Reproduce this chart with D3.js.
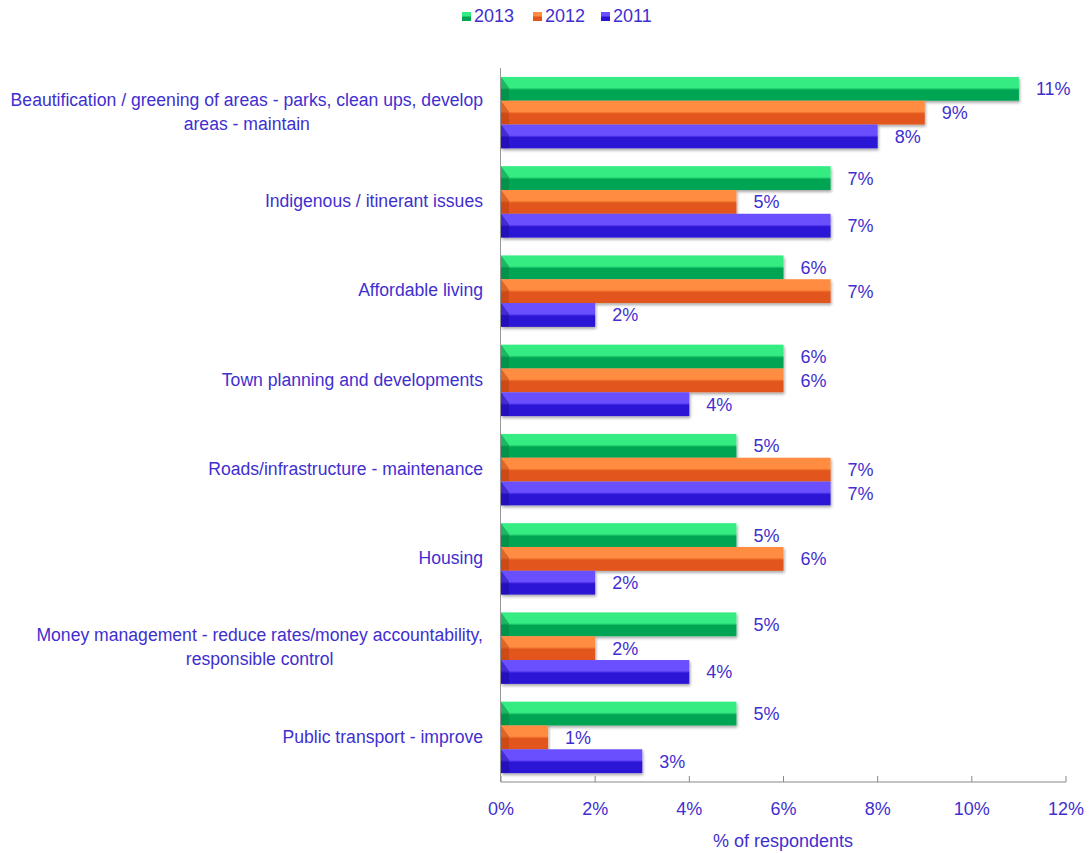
<!DOCTYPE html>
<html><head><meta charset="utf-8">
<script src="https://cdn.jsdelivr.net/npm/d3@7"></script>
<style>body{margin:0;background:#fff}text{font-family:"Liberation Sans",Arial,sans-serif}</style>
</head><body><svg id="c" width="1092" height="853"></svg>
<script>
const categories = [
  ["Beautification / greening of areas - parks, clean ups, develop","areas - maintain"],
  ["Indigenous / itinerant issues"],
  ["Affordable living"],
  ["Town planning and developments"],
  ["Roads/infrastructure - maintenance"],
  ["Housing"],
  ["Money management - reduce rates/money accountability,","responsible control"],
  ["Public transport - improve"]
];
const seriesNames = ["2013","2012","2011"];
const v2013 = [11,7,6,6,5,5,5,5];
const v2012 = [9,5,7,6,7,6,2,1];
const v2011 = [8,7,2,4,7,2,4,3];
const ticks = [0,2,4,6,8,10,12];

(function(){
const series = [v2013, v2012, v2011];
const cols = [
  {top:"#34ec82", bot:"#03a552", dark:"#05803f"},
  {top:"#ff8c40", bot:"#e2541a", dark:"#b84010"},
  {top:"#6b50ff", bot:"#2c12d4", dark:"#1e0aa0"}
];
const textCol = "#3f2fd0";
const fs = 18;

const svg = d3.select("#c");
const defs = svg.append("defs");
cols.forEach((c,i)=>{
  const g = defs.append("linearGradient").attr("id","g"+i).attr("x1",0).attr("y1",0).attr("x2",0).attr("y2",1);
  g.append("stop").attr("offset","0%").attr("stop-color",c.top);
  g.append("stop").attr("offset","45%").attr("stop-color",c.top);
  g.append("stop").attr("offset","55%").attr("stop-color",c.bot);
  g.append("stop").attr("offset","100%").attr("stop-color",c.bot);
});
const sh = defs.append("filter").attr("id","sh").attr("x","-5%").attr("y","-20%").attr("width","110%").attr("height","160%");
sh.append("feGaussianBlur").attr("in","SourceAlpha").attr("stdDeviation",1.5);
sh.append("feOffset").attr("dx",1).attr("dy",2).attr("result","b");
sh.append("feComponentTransfer").append("feFuncA").attr("type","linear").attr("slope",0.35);
const mg = sh.append("feMerge"); mg.append("feMergeNode"); mg.append("feMergeNode").attr("in","SourceGraphic");

const pL = 501, pR = 1066, pT = 68, pB = 782;
const x = d3.scaleLinear().domain([0,12]).range([pL,pR]);
const y = d3.scaleBand().domain(d3.range(categories.length)).range([pT,pB]).paddingInner(0.2).paddingOuter(0.1);
const ys = d3.scaleBand().domain(d3.range(3)).range([0,y.bandwidth()]);

svg.append("line").attr("x1",pL-0.5).attr("x2",pL-0.5).attr("y1",pT).attr("y2",pB).attr("stroke","#999");

const groups = svg.selectAll("g.grp").data(categories).join("g").attr("transform",(d,i)=>`translate(0,${y(i)})`);
groups.each(function(cat,i){
  const g = d3.select(this);
  series.forEach((s,k)=>{
    const by = ys(k), bh = ys.bandwidth();
    g.append("rect").attr("x",x(0)).attr("y",by).attr("width",x(s[i])-x(0)).attr("height",bh)
      .attr("fill",`url(#g${k})`).attr("filter","url(#sh)");
    g.append("path").attr("d",`M${x(0)},${by}L${x(0)+8},${by+bh*0.45}L${x(0)+8},${by+bh}L${x(0)},${by+bh}Z`)
      .attr("fill",cols[k].dark).attr("opacity",0.5);
    g.append("text").attr("x",x(s[i])+17).attr("y",by+bh/2).attr("dy","0.36em")
      .attr("fill",textCol).attr("font-size",fs).text(s[i]+"%");
  });
  const lines = cat;
  const cy = y.bandwidth()/2 - 1;
  const t = g.append("text").attr("text-anchor", "middle").attr("fill",textCol).attr("font-size",17.6);
  const spans = lines.map((ln,j)=> t.append("tspan").attr("x",0)
      .attr("y", cy + (j-(lines.length-1)/2)*24).attr("dy","0.36em").text(ln));
  const w = d3.max(spans, s=>s.node().getComputedTextLength());
  spans.forEach(s=>s.attr("x", 483 - w/2));
});

const ax = svg.append("g").attr("transform",`translate(0,${pB})`);
ax.append("line").attr("x1",pL).attr("x2",pR).attr("stroke","#888");
ax.selectAll("line.t").data(ticks).join("line").attr("class","t").attr("x1",d=>x(d)).attr("x2",d=>x(d)).attr("y1",-6).attr("y2",0).attr("stroke","#888");
ax.selectAll("text").data(ticks).join("text").attr("x",d=>x(d)).attr("y",33).attr("text-anchor","middle")
  .attr("fill",textCol).attr("font-size",fs).text(d=>d+"%");
svg.append("text").attr("x",783).attr("y",847).attr("text-anchor","middle").attr("fill",textCol).attr("font-size",fs).text("% of respondents");

const lg = svg.append("g");
const lx = [462,533,601];
seriesNames.forEach((n,k)=>{
  lg.append("rect").attr("x",lx[k]).attr("y",12).attr("width",9).attr("height",9).attr("fill",`url(#g${k})`);
  lg.append("text").attr("x",lx[k]+12).attr("y",16).attr("dy","0.36em").attr("fill",textCol).attr("font-size",fs).text(n);
});
})();
</script></body></html>
